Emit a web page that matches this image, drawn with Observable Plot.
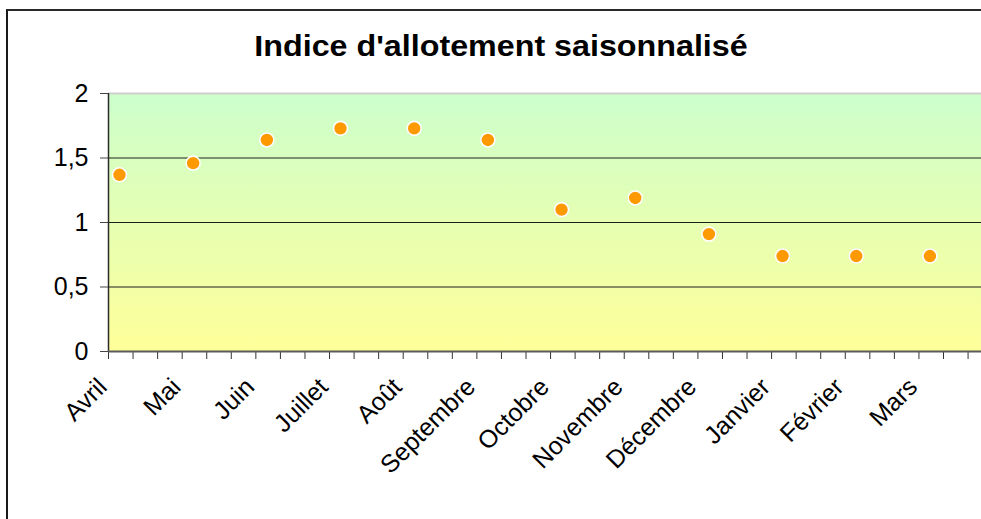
<!DOCTYPE html>
<html>
<head>
<meta charset="utf-8">
<script src="https://cdn.jsdelivr.net/npm/d3@7"></script>
<script src="https://cdn.jsdelivr.net/npm/@observablehq/plot@0.6"></script>
<style>
  html, body { margin: 0; padding: 0; background: #fff; overflow: hidden; }
  #wrap { position: relative; width: 981px; height: 519px; overflow: hidden; font-family: "Liberation Sans", Arial, sans-serif; }
  #frame { position: absolute; left: 6px; top: 9px; width: 1100px; height: 700px; border-top: 2px solid #2a2a2a; border-left: 2px solid #1a1a1a; }
  #title { position: absolute; left: 0; top: 0; width: 1002px; height: 70px; text-align: center; font-weight: bold; font-size: 30px; line-height: 30px; padding-top: 31px; box-sizing: border-box; color: #000; transform: scaleX(1.075); transform-origin: 501px 0; }
  #chart { position: absolute; left: 0; top: 70px; }
  #chart svg { overflow: visible; }
  #chart g[aria-label="y-axis tick label"] text { font-size: 25px; }
  #chart g.xlabels text { font-size: 25px; }
</style>
</head>
<body>
<div id="wrap">
  <div id="frame"></div>
  <div id="title">Indice d'allotement saisonnalisé</div>
  <div id="chart"></div>
</div>
<script>
const months = ["Avril", "Mai", "Juin", "Juillet", "Août", "Septembre", "Octobre", "Novembre", "Décembre", "Janvier", "Février", "Mars"];
const values = [1.37, 1.46, 1.64, 1.73, 1.73, 1.64, 1.10, 1.19, 0.91, 0.74, 0.74, 0.74];
const yTicks = [0, 0.5, 1, 1.5, 2];
const gridValues = [0.5, 1, 1.5];

const xStart = -0.149;
const xEnd = 11.70;
const minorTicks = d3.range(0, 36).map(k => xStart + k / 3);

const data = months.map((m, i) => ({month: m, i, value: values[i]}));

const plot = Plot.plot({
  width: 981,
  height: 449,
  marginTop: 23,
  marginBottom: 168,
  marginLeft: 108,
  marginRight: 0,
  style: {fontFamily: "'Liberation Sans', Arial, sans-serif", fontSize: "25px", color: "#000", background: "transparent", overflow: "visible"},
  x: {type: "linear", domain: [xStart, xEnd]},
  y: {domain: [0, 2]},
  marks: [
    Plot.frame({fill: "url(#bgGrad)", stroke: "none"}),
    Plot.ruleY(gridValues, {stroke: "#1e1e1e", strokeWidth: 1}),
    Plot.ruleY([2], {stroke: "#cfcfcf", strokeWidth: 2}),
    Plot.ruleX([xStart], {stroke: "#2a2a2a", strokeWidth: 1.5}),
    Plot.axisY({ticks: yTicks, tickSize: 8, tickPadding: 12, tickFormat: d => String(d).replace(".", ","), stroke: "#444", fill: "#000", label: null, fontSize: 25}),
    Plot.axisX({ticks: minorTicks, tickSize: 8, tickFormat: () => "", stroke: "#333", label: null}),
    Plot.ruleY([0], {stroke: "#5a5a5a", strokeWidth: 2}),
    Plot.text(data, {x: "i", y: () => 0, text: "month", rotate: -45, textAnchor: "end", lineAnchor: "bottom", dx: -11, dy: 37, fontSize: 25, fill: "#000", className: "xlabels"}),
    Plot.dot(data, {x: "i", y: "value", r: 7, fill: "#FF9900", stroke: "#fff", strokeWidth: 1.6})
  ]
});

const svg = d3.select(plot);
const defs = svg.insert("defs", ":first-child");
const grad = defs.append("linearGradient").attr("id", "bgGrad").attr("x1", 0).attr("y1", 0).attr("x2", 0).attr("y2", 1);
grad.append("stop").attr("offset", "0%").attr("stop-color", "#CCFFCC");
grad.append("stop").attr("offset", "100%").attr("stop-color", "#FFFF99");

document.getElementById("chart").appendChild(plot);
</script>
</body>
</html>
